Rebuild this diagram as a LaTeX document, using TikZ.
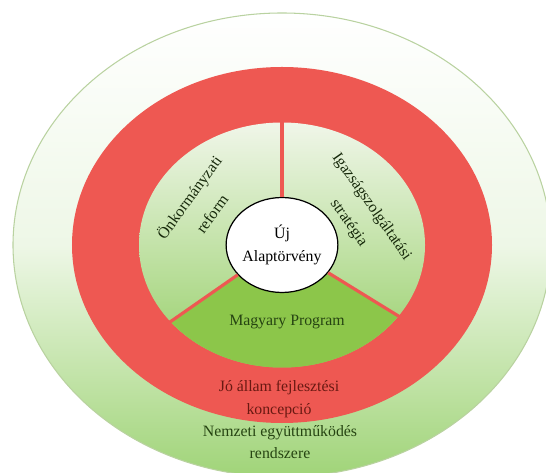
\documentclass[tikz,border=0pt]{standalone}
\usepackage{fontspec}
\setmainfont{Liberation Serif}
\usepackage{xcolor}
\usepackage{tikz}
\usetikzlibrary{shapes.geometric}

\definecolor{ringred}{RGB}{238,88,82}
\definecolor{palegreen}{RGB}{240,246,233}
\definecolor{midgreen}{RGB}{150,207,104}
\definecolor{sectorgreen}{RGB}{140,198,74}
\definecolor{outergreen}{RGB}{160,212,120}
\definecolor{rimgreen}{RGB}{185,210,160}
\definecolor{textgreen}{RGB}{38,68,18}
\definecolor{textred}{RGB}{105,25,18}

\tikzset{
  captext/.style={align=center, font=\fontsize{9}{13}\selectfont, inner sep=1pt},
  slanttext/.style={captext, font=\fontsize{9}{16}\selectfont, text=textgreen!60!black},
  divider/.style={ringred, line width=1.8pt},
  core/.style={ellipse, draw=black, line width=0.7pt, fill=white,
    minimum width=2.22cm, minimum height=1.9cm, inner sep=0pt,
    align=center, font=\fontsize{9}{13}\selectfont}
}

\begin{document}
\begin{tikzpicture}[x=0.02cm, y=0.02cm]
        \useasboundingbox (-282,-227) rectangle (264,245);

        % Outer ring
        \path[draw=rimgreen, line width=0.6pt, top color=white, bottom color=outergreen,
          middle color=white!82!outergreen] (0,0) ellipse [x radius=269, y radius=232];

        % Red ring
        \fill[ringred] (0,0) ellipse [x radius=210, y radius=178];

        % Inner disc
        \shade[top color=palegreen, bottom color=midgreen] (0,0) ellipse [x radius=143, y radius=122.5];

        % Bottom sector
        \begin{scope}
          \clip (0,0) ellipse [x radius=143, y radius=122.5];
          \fill[sectorgreen] (0,0) -- (-224,-154) -- (236,-144) -- cycle;
        \end{scope}

        % Centre
        \node[core] (core) at (0,0) {Új\\Alaptörvény};

        % Dividers
        \coordinate (topend) at (0,122.5);
        \coordinate (leftend) at (-112,-77);
        \coordinate (rightend) at (118,-72);
        \draw[divider] (core.north) -- (topend);
        \draw[divider] (core.214.5) -- (leftend);
        \draw[divider] (core.-31.4) -- (rightend);

        % Labels
        \node[slanttext, rotate=54] (selfgov) at (-82,40) {Önkormányzati\\reform};
        \node[slanttext, rotate=-55] (justice) at (78,30) {Igazságszolgáltatási\\stratégia};
        \node[captext, textgreen] (magyary) at (5,-77) {Magyary Program};
        \node[captext, textred] (goodstate) at (-3,-154) {Jó állam fejlesztési\\koncepció};
        \node[captext, textgreen] (national) at (-2,-197) {Nemzeti együttműködés\\rendszere};
    \end{tikzpicture}
\end{document}
